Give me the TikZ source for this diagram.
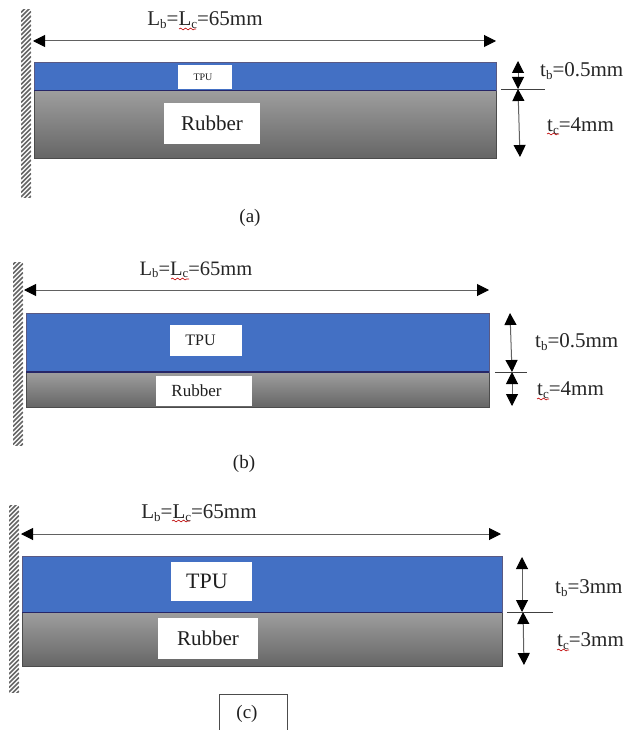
\documentclass[tikz,border=0pt]{standalone}
\usepackage{fontspec}
\setmainfont{Liberation Serif}
\usetikzlibrary{arrows.meta,decorations.pathmorphing,calc}
\newcommand{\sbs}[1]{\raisebox{-0.12em}{\scalebox{0.62}{#1}}}
\newcommand{\fs}[1]{\fontsize{#1}{#1}\selectfont}
\tikzset{
  x=1pt,y=-1pt,
  dim/.style={draw=black!62,line width=1pt,{Triangle[length=12pt,width=12pt,color=black]}-{Triangle[length=12pt,width=12pt,color=black]}},
  tick/.style={draw=black!75,line width=0.7pt},
  blue layer/.style={draw=blue!25!black!65,fill=tpublue,line width=0.8pt},
  rubber layer/.style={draw=black!70,top color=black!38,bottom color=black!60,line width=0.8pt},
  whitebox/.style={fill=white,draw=none,inner sep=0pt,text=black!88},
  lab/.style={inner sep=0pt,text=black!85,font=\fs{21}},
  wave/.style={draw=red!75!black,line width=0.6pt,decorate,decoration={snake,amplitude=0.9pt,segment length=5pt}},
  hatchwall/.style={draw=black!60,line width=1.7pt},
  caption/.style={inner sep=0pt,text=black!88,font=\fs{19}}
}
\definecolor{tpublue}{HTML}{4370C4}
\newcommand{\wall}[3]{%
  \begin{scope}
    \clip (#1,#2) rectangle (#1+10,#3);
    \pgfmathsetmacro{\ystart}{#2-2}
    \pgfmathsetmacro{\ynext}{#2+2.5}
    \pgfmathsetmacro{\yend}{#3+12}
    \foreach \yy in {\ystart,\ynext,...,\yend}{
      \draw[hatchwall] (#1,\yy) -- (#1+10,\yy-10);
    }
  \end{scope}}
\newcommand{\lenlabel}{L\sbs{b}=L\sbs{c}=65mm}
\begin{document}
\begin{tikzpicture}
\useasboundingbox (0,0) rectangle (641,730);
\fill[white] (0,0) rectangle (641,730);

% ---------- panel a
\wall{21}{10}{197}
\path[rubber layer] (34,90) rectangle (496,158);
\path[blue layer] (34,62) rectangle (496,90);
\draw[line width=1.2pt,draw=blue!30!black!85] (34,90.5) -- (496,90.5);
\node[whitebox,minimum width=54pt,minimum height=24pt] (tpua) at (205,77) {\hspace{-4pt}\fs{10}TPU};
\node[whitebox,minimum width=96pt,minimum height=41pt] (rubbera) at (212,123.5) {\fs{21}Rubber};
\coordinate (al) at (33,41); \coordinate (ar) at (496,41);
\draw[dim] (al) -- (ar);
\node[lab] (lena) at (205,20) {\lenlabel};
\draw[wave] (179,29) -- (196,29);
\coordinate (a1) at (518,61); \coordinate (a2) at (518,89); \coordinate (a3) at (518,89); \coordinate (a4) at (520,157);
\draw[dim] (a1) -- (a2);
\draw[dim] (a3) -- (a4);
\coordinate (a5) at (501,89); \coordinate (a6) at (545,89);
\draw[tick] (a5) -- (a6);
\node[lab,anchor=west] (tba) at (540,71) {t\sbs{b}=0.5mm};
\node[lab,anchor=west] (tca) at (547,126) {t\sbs{c}=4mm};
\draw[wave] (547,134) -- (559,134);
\node[caption] (capa) at (250,218) {(a)};

% ---------- panel b
\wall{13}{262}{445}
\path[rubber layer] (26,372) rectangle (489,407);
\path[blue layer] (26,313) rectangle (489,372);
\draw[line width=1.4pt,draw=blue!30!black!85] (26,372) -- (489,372);
\node[whitebox,minimum width=72pt,minimum height=31pt] (tpub) at (206,340.5) {\hspace{-11pt}\fs{16}TPU};
\node[whitebox,minimum width=96pt,minimum height=30pt] (rubberb) at (204,391) {\hspace{-15pt}\fs{17}Rubber};
\coordinate (bl) at (24,290); \coordinate (br) at (489,290);
\draw[dim] (bl) -- (br);
\node[lab,font=\fs{20.5}] (lenb) at (196,270) {\lenlabel};
\draw[wave] (171,279) -- (189,279);
\coordinate (b1) at (510,313); \coordinate (b2) at (512,372); \coordinate (b3) at (512,372); \coordinate (b4) at (512,406);
\draw[dim] (b1) -- (b2);
\draw[dim] (b3) -- (b4);
\coordinate (b5) at (495,372); \coordinate (b6) at (527,372);
\draw[tick] (b5) -- (b6);
\node[lab,anchor=west] (tbb) at (535,342) {t\sbs{b}=0.5mm};
\node[lab,anchor=west] (tcb) at (537,390) {t\sbs{c}=4mm};
\draw[wave] (537,399) -- (549,399);
\node[caption] (capb) at (244,464) {(b)};

% ---------- panel c
\wall{9}{505}{692}
\path[rubber layer] (22,612) rectangle (502,666);
\path[blue layer] (22,556) rectangle (502,612);
\draw[line width=1.1pt,draw=blue!30!black!85] (22,612.5) -- (502,612.5);
\node[whitebox,minimum width=81pt,minimum height=39pt] (tpuc) at (211.5,581.5) {\hspace{-9pt}\fs{22}TPU};
\node[whitebox,minimum width=100pt,minimum height=41pt] (rubberc) at (208,638.5) {\fs{21}Rubber};
\coordinate (cl) at (21,534); \coordinate (cr) at (501,534);
\draw[dim] (cl) -- (cr);
\node[lab] (lenc) at (199,513) {\lenlabel};
\draw[wave] (172,521) -- (190,521);
\coordinate (c1) at (522,557); \coordinate (c2) at (522,612); \coordinate (c3) at (523,612); \coordinate (c4) at (524,665);
\draw[dim] (c1) -- (c2);
\draw[dim] (c3) -- (c4);
\coordinate (c5) at (507,612); \coordinate (c6) at (553,612);
\draw[tick] (c5) -- (c6);
\node[lab,anchor=west] (tbc) at (555,588) {t\sbs{b}=3mm};
\node[lab,anchor=west] (tcc) at (557,641) {t\sbs{c}=3mm};
\draw[wave] (557,650) -- (569,650);
\draw[black!70,line width=0.8pt] (219,730) -- (219,694) -- (287,694) -- (287,730);
\node[caption] (capc) at (247,714) {(c)};
\end{tikzpicture}
\end{document}
